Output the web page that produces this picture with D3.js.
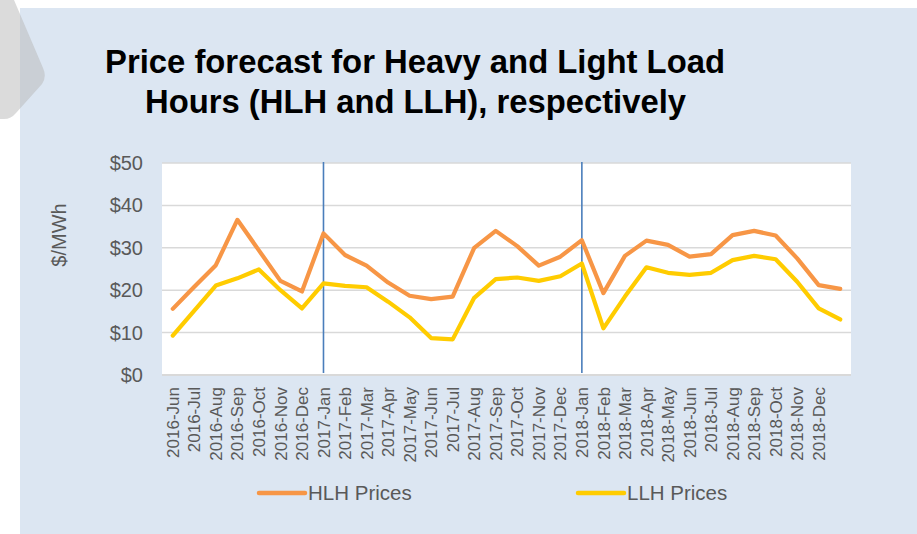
<!DOCTYPE html>
<html>
<head>
<meta charset="utf-8">
<script src="https://cdn.jsdelivr.net/npm/d3@7"></script>
<style>
  html, body { margin: 0; padding: 0; background: #fff; }
  svg { display: block; font-family: "Liberation Sans", Arial, sans-serif; }
</style>
</head>
<body>
<div class="chart"></div>
<script>
// Data
const months = [
  "2016-Jun","2016-Jul","2016-Aug","2016-Sep","2016-Oct","2016-Nov","2016-Dec",
  "2017-Jan","2017-Feb","2017-Mar","2017-Apr","2017-May","2017-Jun","2017-Jul",
  "2017-Aug","2017-Sep","2017-Oct","2017-Nov","2017-Dec",
  "2018-Jan","2018-Feb","2018-Mar","2018-Apr","2018-May","2018-Jun","2018-Jul",
  "2018-Aug","2018-Sep","2018-Oct","2018-Nov","2018-Dec",""
]
const hlhPrices = [15.6, 20.8, 25.9, 36.6, 29.4, 22.2, 19.7,
  33.4, 28.3, 25.8, 21.8, 18.7, 17.9, 18.5, 30.0, 34.0, 30.4, 25.8, 27.9,
  31.8, 19.3, 28.1, 31.7, 30.7, 27.9, 28.5, 33.0, 34.0, 32.9, 27.5, 21.2, 20.3]
const llhPrices = [9.3, 15.2, 21.1, 22.8, 24.9, 20.0, 15.7,
  21.6, 21.0, 20.7, 17.3, 13.6, 8.7, 8.4, 18.2, 22.6, 23.0, 22.2, 23.3,
  26.3, 11.0, 18.5, 25.4, 24.1, 23.6, 24.1, 27.1, 28.1, 27.3, 22.0, 15.7, 13.1]
const yTicks = [0, 10, 20, 30, 40, 50]
const yearMarks = ["2017-Jan", "2018-Jan"]
const seriesNames = ["HLH Prices", "LLH Prices"]

const width = 917
const height = 534
const plot = { left: 162, right: 851, top: 163, bottom: 375 }
const textColor = "#595959"
const colors = ["#f79646", "#ffcc00"]

const svg = d3.select(".chart")
  .append("svg")
  .attr("width", width)
  .attr("height", height)

// panel background
svg.append("rect")
  .attr("x", 20).attr("y", 8)
  .attr("width", width - 20).attr("height", height - 8)
  .attr("fill", "#dce6f2")

// grey chevron on the left edge
svg.append("path")
  .attr("d", "M-30,0 L14,0 L43,68 Q47,77 42,84 L16,113 Q11,119 4,119 L-30,119 Z")
  .attr("fill", "#b8b8b8")
  .attr("fill-opacity", 0.5)

// title
const title = svg.append("g")
  .attr("font-weight", "bold")
  .attr("font-size", 32.5)
  .attr("fill", "#000")
title.append("text")
  .attr("x", 105).attr("y", 72.5)
  .attr("textLength", 620).attr("lengthAdjust", "spacingAndGlyphs")
  .text("Price forecast for Heavy and Light Load")
title.append("text")
  .attr("x", 145).attr("y", 113)
  .attr("textLength", 541).attr("lengthAdjust", "spacingAndGlyphs")
  .text("Hours (HLH and LLH), respectively")

// scales
const x = d3.scaleBand()
  .domain(d3.range(months.length))
  .range([plot.left, plot.right])
const cx = i => x(i) + x.bandwidth() / 2

const y = d3.scaleLinear()
  .domain([0, 50])
  .range([plot.bottom, plot.top])

// plot area
svg.append("rect")
  .attr("x", plot.left).attr("y", plot.top)
  .attr("width", plot.right - plot.left).attr("height", plot.bottom - plot.top)
  .attr("fill", "#fff")

// gridlines
svg.append("g")
  .selectAll("line")
  .data(yTicks)
  .join("line")
    .attr("x1", plot.left).attr("x2", plot.right)
    .attr("y1", d => y(d)).attr("y2", d => y(d))
    .attr("stroke", "#d9d9d9")
    .attr("stroke-width", d => d === 0 ? 2 : 1.5)

// y axis
const yAxis = svg.append("g")
  .attr("transform", `translate(${plot.left},0)`)
  .call(d3.axisLeft(y).tickValues(yTicks).tickSize(0).tickPadding(19)
    .tickFormat(d => "$" + d))
yAxis.select(".domain").remove()
yAxis.selectAll("text")
  .attr("font-size", 20)
  .attr("font-family", "'Liberation Sans', Arial, sans-serif")
  .attr("fill", textColor)

svg.append("text")
  .attr("transform", "translate(66,235) rotate(-90)")
  .attr("text-anchor", "middle")
  .attr("font-size", 20)
  .attr("fill", textColor)
  .text("$/MWh")

// x axis labels
const xAxis = svg.append("g")
  .attr("transform", `translate(0,${plot.bottom})`)
  .call(d3.axisBottom(x).tickSize(0).tickFormat(i => months[i]))
xAxis.select(".domain").remove()
xAxis.selectAll("text")
  .attr("font-size", 17)
  .attr("font-family", "'Liberation Sans', Arial, sans-serif")
  .attr("fill", textColor)
  .attr("text-anchor", "end")
  .attr("transform", "rotate(-90)")
  .attr("x", -12)
  .attr("y", 0)
  .attr("dy", "0.36em")

// year separators
svg.append("g")
  .selectAll("line")
  .data(yearMarks)
  .join("line")
    .attr("x1", d => cx(months.indexOf(d)))
    .attr("x2", d => cx(months.indexOf(d)))
    .attr("y1", plot.top - 1).attr("y2", plot.bottom - 2)
    .attr("stroke", "#4a7ebb")
    .attr("stroke-width", 1.6)

// lines
const line = d3.line()
  .x((d, i) => cx(i))
  .y(d => y(d))

const series = [hlhPrices, llhPrices]
svg.append("g")
  .selectAll("path")
  .data(series)
  .join("path")
    .attr("d", line)
    .attr("fill", "none")
    .attr("stroke", (d, i) => colors[i])
    .attr("stroke-width", 4.2)
    .attr("stroke-linejoin", "round")
    .attr("stroke-linecap", "round")

// legend
const legendX = [259, 578]
const legend = svg.append("g")
  .selectAll("g")
  .data(seriesNames)
  .join("g")
    .attr("transform", (d, i) => `translate(${legendX[i]},493)`)
legend.append("line")
  .attr("x1", 0).attr("x2", 46)
  .attr("stroke", (d, i) => colors[i])
  .attr("stroke-width", 4.5)
  .attr("stroke-linecap", "round")
legend.append("text")
  .attr("x", 49)
  .attr("dy", "0.35em")
  .attr("font-size", 20.5)
  .attr("fill", textColor)
  .text(d => d)
</script>
</body>
</html>
